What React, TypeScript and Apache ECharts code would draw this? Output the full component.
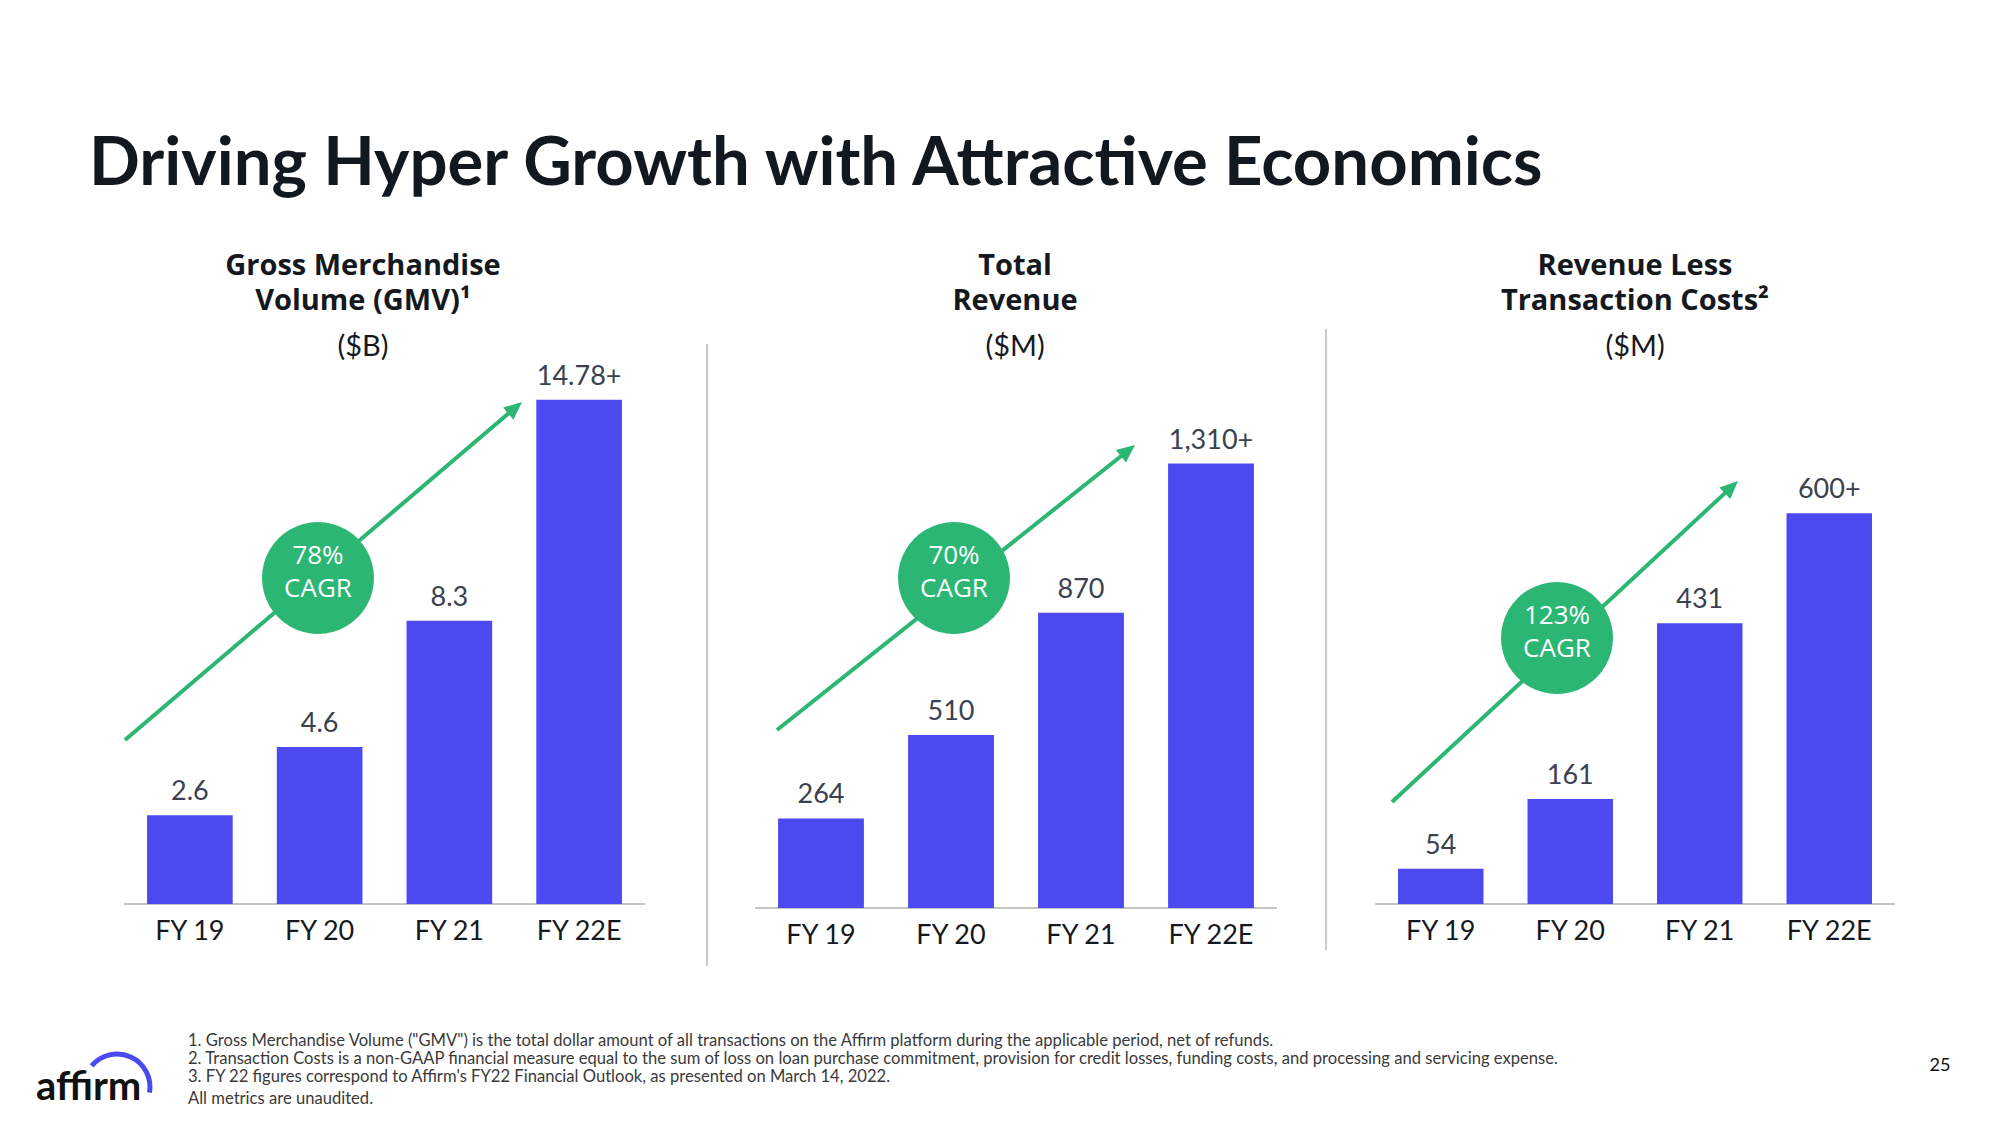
import React, { useEffect, useRef } from "react";
import * as echarts from "echarts";

const categories = ["FY 19", "FY 20", "FY 21", "FY 22E"];
const gmvValues = [2.6, 4.6, 8.3, 14.78];
const gmvLabels = ["2.6", "4.6", "8.3", "14.78+"];
const revenueValues = [264, 510, 870, 1310];
const revenueLabels = ["264", "510", "870", "1,310+"];
const rltcValues = [54, 161, 431, 600];
const rltcLabels = ["54", "161", "431", "600+"];
const cagrLabels = ["78%", "70%", "123%"];
const panelTitles = [
  ["Gross Merchandise", "Volume (GMV)¹", "($B)"],
  ["Total", "Revenue", "($M)"],
  ["Revenue Less", "Transaction Costs²", "($M)"],
];
const footnotes = [
  '1. Gross Merchandise Volume ("GMV") is the total dollar amount of all transactions on the Affirm platform during the applicable period, net of refunds.',
  "2. Transaction Costs is a non-GAAP financial measure equal to the sum of loss on loan purchase commitment, provision for credit losses, funding costs, and processing and servicing expense.",
  "3. FY 22 figures correspond to Affirm's FY22 Financial Outlook, as presented on March 14, 2022.",
];
const auditNote = "All metrics are unaudited.";

const BAR = "#4B49EF";
const GREEN = "#2BB673";
const FONT = "Lato, 'Open Sans', sans-serif";
const HFONT = "'Open Sans', Lato, sans-serif";

function arrow(x1: number, y1: number, x2: number, y2: number) {
  const dx = x2 - x1, dy = y2 - y1;
  const len = Math.sqrt(dx * dx + dy * dy);
  const ux = dx / len, uy = dy / len;
  const px = -uy, py = ux;
  const hl = 18, hw = 8;
  const bx = x2 - ux * hl, by = y2 - uy * hl;
  return [
    { type: "line", shape: { x1, y1, x2: bx + ux * 2, y2: by + uy * 2 }, style: { stroke: GREEN, lineWidth: 4 }, z: 10 },
    { type: "polygon", shape: { points: [[x2, y2], [bx + px * hw, by + py * hw], [bx - px * hw, by - py * hw]] }, style: { fill: GREEN }, z: 10 },
  ];
}

function circle(cx: number, cy: number, pct: string) {
  const f = "26px 'Open Sans', sans-serif";
  return [
    { type: "circle", shape: { cx, cy, r: 56 }, style: { fill: GREEN }, z: 20 },
    { type: "text", x: cx, y: cy - 24, z: 21, style: { text: pct, fill: "#fff", font: f, align: "center", verticalAlign: "middle" } },
    { type: "text", x: cx, y: cy + 9, z: 21, style: { text: "CAGR", fill: "#fff", font: f, align: "center", verticalAlign: "middle" } },
  ];
}

function heading(cx: number, lines: string[]) {
  return [
    { type: "text", x: cx, y: 263, style: { text: lines[0], fill: "#15191e", font: `bold 29px ${HFONT}`, align: "center", verticalAlign: "middle" } },
    { type: "text", x: cx, y: 298, style: { text: lines[1], fill: "#15191e", font: `bold 29px ${HFONT}`, align: "center", verticalAlign: "middle" } },
    { type: "text", x: cx, y: 344, style: { text: lines[2], fill: "#15191e", font: `29px ${FONT}`, align: "center", verticalAlign: "middle" } },
  ];
}

export default function App() {
  const ref = useRef<HTMLDivElement>(null);
  useEffect(() => {
    if (!ref.current) return;
    const chart = echarts.init(ref.current, undefined, { renderer: "svg" });
    const grids = [
      { left: 125, top: 358, width: 519, height: 546 },
      { left: 756, top: 433, width: 520, height: 475 },
      { left: 1376, top: 448, width: 518, height: 456 },
    ];
    const maxes = [16, 1400, 700];
    const vals = [gmvValues, revenueValues, rltcValues];
    const labs = [gmvLabels, revenueLabels, rltcLabels];
    const option: any = {
      animation: false,
      backgroundColor: "#ffffff",
      grid: grids,
      xAxis: grids.map((_, i) => ({
        type: "category",
        gridIndex: i,
        data: categories,
        axisLine: { lineStyle: { color: "#c4c4c4", width: 2 } },
        axisTick: { show: false },
        axisLabel: { color: "#15191e", fontSize: 27, fontFamily: FONT, margin: 12 },
      })),
      yAxis: grids.map((_, i) => ({
        type: "value", gridIndex: i, min: 0, max: maxes[i], show: false, splitLine: { show: false },
      })),
      series: vals.map((v, i) => ({
        type: "bar",
        xAxisIndex: i,
        yAxisIndex: i,
        barWidth: "66%",
        itemStyle: { color: BAR },
        data: v.map((val, j) => ({
          value: val,
          label: {
            show: true, position: "top", distance: 12, formatter: labs[i][j],
            color: "#3a4250", fontSize: 27, fontFamily: FONT,
          },
        })),
      })),
      graphic: [
        { type: "text", x: 89, y: 159, style: { text: "Driving Hyper Growth with Attractive Economics", fill: "#111820", font: `bold 67px ${FONT}`, verticalAlign: "middle" } },
        ...heading(363, panelTitles[0]),
        ...heading(1015, panelTitles[1]),
        ...heading(1635, panelTitles[2]),
        { type: "line", shape: { x1: 707, y1: 344, x2: 707, y2: 966 }, style: { stroke: "#c8c8c8", lineWidth: 2 } },
        { type: "line", shape: { x1: 1326, y1: 329, x2: 1326, y2: 950 }, style: { stroke: "#c8c8c8", lineWidth: 2 } },
        ...arrow(125, 740, 522, 402),
        ...arrow(777, 730, 1135, 445),
        ...arrow(1392, 802, 1738, 481),
        ...circle(318, 578, cagrLabels[0]),
        ...circle(954, 578, cagrLabels[1]),
        ...circle(1557, 638, cagrLabels[2]),
        ...footnotes.map((t, i) => ({
          type: "text", x: 188, y: 1040 + i * 18, style: { text: t, fill: "#3a3a3a", font: `16.6px ${FONT}`, verticalAlign: "middle" },
        })),
        { type: "text", x: 188, y: 1098, style: { text: auditNote, fill: "#3a3a3a", font: `16.6px ${FONT}`, verticalAlign: "middle" } },
        { type: "text", x: 1940, y: 1064, style: { text: "25", fill: "#111", font: `18px ${FONT}`, align: "center", verticalAlign: "middle" } },
        { type: "text", x: 36, y: 1085, style: { text: "affirm", fill: "#111", font: `bold 40px ${FONT}`, verticalAlign: "middle" } },
        { type: "arc", shape: { cx: 117, cy: 1087, r: 33, startAngle: -Math.PI * 0.78, endAngle: 0.17, clockwise: true }, style: { stroke: "#4A4AF4", lineWidth: 5, fill: "none" } },
      ],
    };
    chart.setOption(option);
    return () => chart.dispose();
  }, []);
  return <div ref={ref} style={{ position: "fixed", left: 0, top: 0, width: 2000, height: 1125 }} />;
}
